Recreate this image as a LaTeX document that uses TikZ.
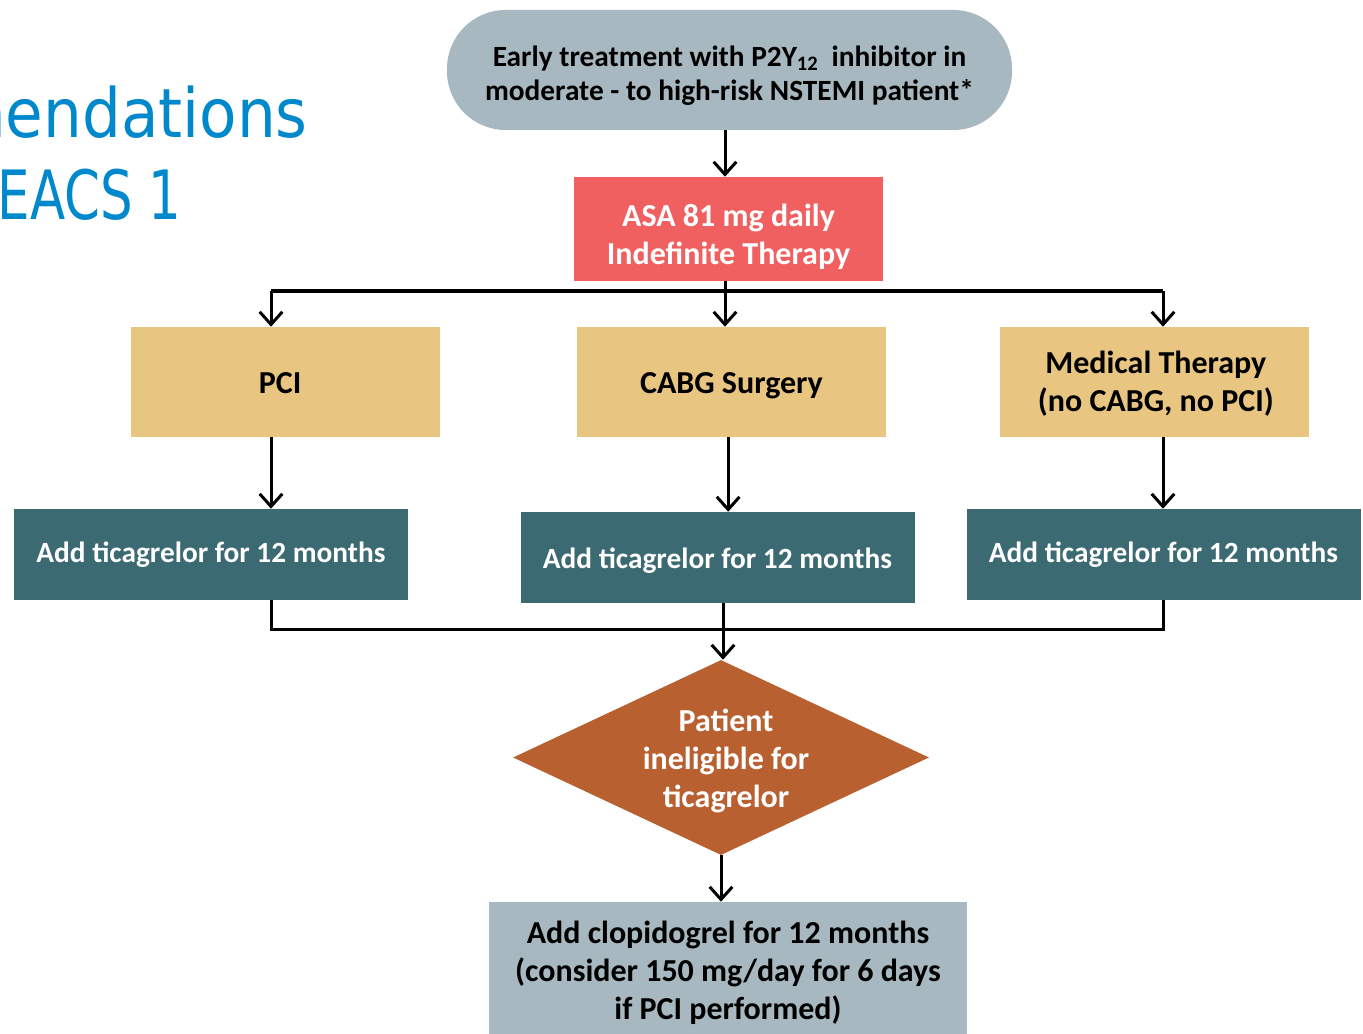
\documentclass[tikz,border=0pt]{standalone}
\usepackage{fontspec}
\setmainfont{Carlito}
\newfontfamily\titlefont{DejaVu Sans Condensed}
\usetikzlibrary{arrows.meta,shapes.geometric}
\definecolor{greyblue}{RGB}{168,184,192}
\definecolor{asared}{RGB}{240,96,96}
\definecolor{tan}{RGB}{232,198,130}
\definecolor{teal}{RGB}{59,106,114}
\definecolor{rust}{RGB}{184,96,48}
\definecolor{titleblue}{RGB}{0,136,204}
\tikzset{
  boxbase/.style={draw=none, inner sep=0pt},
  txt/.style={inner sep=0pt, align=center, font=\fontsize{24pt}{28.5pt}\selectfont\bfseries},
  greybox/.style={boxbase, fill=greyblue},
  redbox/.style={boxbase, fill=asared},
  tanbox/.style={boxbase, fill=tan, minimum width=231.75pt, minimum height=82.5pt},
  tealbox/.style={boxbase, fill=teal, minimum width=295.5pt, minimum height=68.25pt},
  tealtxt/.style={txt, text=white, font=\fontsize{22pt}{26pt}\selectfont\bfseries},
  decision/.style={boxbase, diamond, fill=rust, aspect=2.13, minimum width=312pt, minimum height=146.25pt},
  conn/.style={line width=2.25pt, draw=black},
  arr/.style={conn, -{Straight Barb[length=9.5pt,width=17pt,line width=2.25pt]}},
  titletext/.style={text=titleblue, font=\titlefont\fontsize{51pt}{60pt}\selectfont, inner sep=0pt, anchor=base east}
}
\begin{document}
\begin{tikzpicture}[x=0.75pt,y=-0.75pt]
\useasboundingbox (0,0) rectangle (1363,1034);
\clip (0,0) rectangle (1363,1034);
\fill[white] (0,0) rectangle (1363,1034);

% title fragments
\node[titletext] (t1) at (308,138) {mendations};
\node[titletext] (t2) at (182,220) {\scalebox{0.84}[1]{EACS 1}};

% boxes
\node[greybox, minimum width=423.75pt, minimum height=90pt, rounded corners=44pt] (top) at (729.5,70) {};
\node[redbox, minimum width=231.75pt, minimum height=78pt] (asa) at (728.5,229) {};
\node[tanbox] (pci) at (285.5,382) {};
\node[tanbox] (cabg) at (731.5,382) {};
\node[tanbox] (med) at (1154.5,382) {};
\node[tealbox] (tl) at (211,554.5) {};
\node[tealbox] (tm) at (717.5,557.5) {};
\node[tealbox] (tr) at (1163.5,554.5) {};
\node[decision] (dia) at (721,757.5) {};
\node[greybox, minimum width=358.5pt, minimum height=103.5pt] (bot) at (728,971) {};

% texts
\node[txt, font=\fontsize{22pt}{25.5pt}\selectfont\bfseries, yshift=-4.5pt] (topT) at (top)
  {Early treatment with P2Y\textsubscript{12}\ \ inhibitor in\\moderate - to high-risk NSTEMI patient*};
\node[txt, text=white, yshift=-6pt] (asaT) at (asa) {ASA 81 mg daily\\Indefinite Therapy};
\node[txt, yshift=-0.75pt, xshift=-4pt] (pciT) at (pci) {PCI};
\node[txt, yshift=-2.5pt] (cabgT) at (cabg) {CABG Surgery};
\node[txt, yshift=-1.5pt, xshift=1pt] (medT) at (med) {Medical Therapy\\(no CABG, no PCI)};
\node[tealtxt] (tlT) at (tl) {Add ticagrelor for 12 months};
\node[tealtxt, yshift=-2.25pt] (tmT) at (tm) {Add ticagrelor for 12 months};
\node[tealtxt] (trT) at (tr) {Add ticagrelor for 12 months};
\node[txt, text=white, yshift=-2.5pt, xshift=3.75pt] (diaT) at (dia) {Patient\\ineligible for\\ticagrelor};
\node[txt, yshift=-1pt] (botT) at (bot)
  {Add clopidogrel for 12 months\\(consider 150 mg/day for 6 days\\if PCI performed)};

% split coordinates
\coordinate (sl) at (271,291);
\coordinate (sm) at (725,291);
\coordinate (sr) at (1163,291);
\coordinate (ml) at (271,629);
\coordinate (mr) at (1163,629);

% connectors
\draw[arr] (top.south -| sm) -- (sm |- asa.north);
\draw[arr] (sm |- asa.south) -- (sm |- cabg.north);
\draw[conn] (sl) -- (sr);
\draw[arr] (sl) -- (sl |- pci.north);
\draw[arr] (sr) -- (sr |- med.north);
\draw[arr] (sl |- pci.south) -- (sl |- tl.north);
\draw[arr] ([xshift=-2.5pt]cabg.south) -- ([xshift=-2.5pt]cabg.south |- tm.north);
\draw[arr] (sr |- med.south) -- (sr |- tr.north);
\draw[conn] (sl |- tl.south) -- (ml) -- (mr) -- (mr |- tr.south);
\draw[arr] ([xshift=1.5pt]dia.north |- tm.south) -- ([xshift=1.5pt]dia.north);
\draw[arr] (dia.south) -- (dia.south |- bot.north);
\end{tikzpicture}
\end{document}
